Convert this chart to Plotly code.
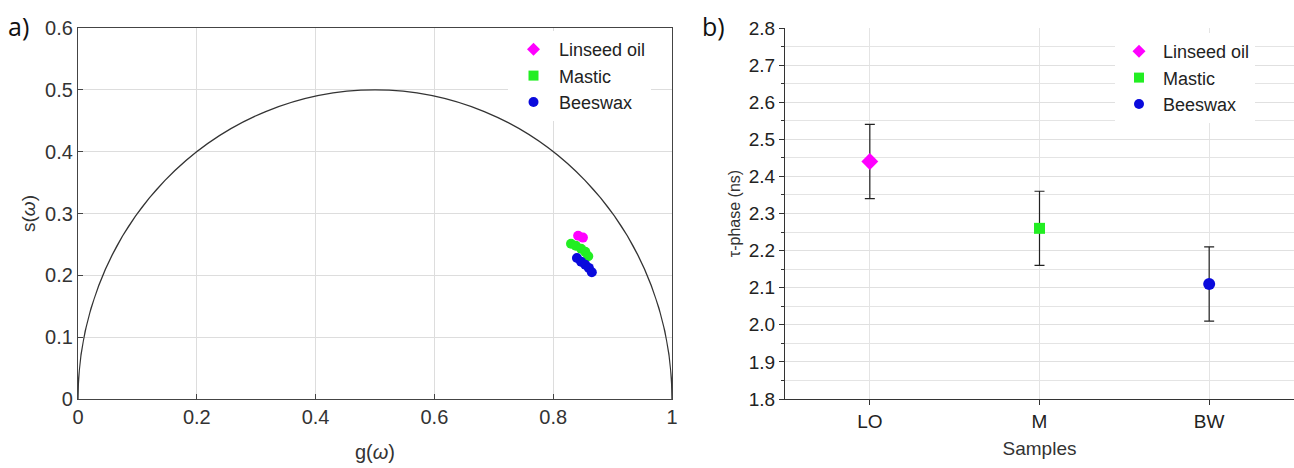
import plotly.graph_objects as go

# ---- data: phasor plot (a) ----
lo_g = [0.842, 0.850]
lo_s = [0.264, 0.261]
m_g = [0.830, 0.838, 0.847, 0.854, 0.859]
m_s = [0.251, 0.248, 0.243, 0.238, 0.231]
bw_g = [0.840, 0.847, 0.854, 0.860, 0.865]
bw_s = [0.228, 0.222, 0.217, 0.212, 0.205]

# ---- data: tau-phase plot (b) ----
samples = ["LO", "M", "BW"]
tau = [2.44, 2.26, 2.11]
tau_err = [0.10, 0.10, 0.10]

names = ["Linseed oil", "Mastic", "Beeswax"]
colors = ["#ff00ff", "#22ee22", "#0a0adc"]
symbols = ["diamond", "square", "circle"]

FONT = "Liberation Sans, Arial, sans-serif"

fig = go.Figure()

left_sets = [(lo_g, lo_s), (m_g, m_s), (bw_g, bw_s)]
for k, ((gx, sy), nm, c, sym) in enumerate(zip(left_sets, names, colors, symbols)):
    fig.add_trace(go.Scatter(x=gx, y=sy, mode="markers", name=nm,
                             marker=dict(color=c, size=10, symbol="circle", line=dict(width=0)),
                             xaxis="x", yaxis="y", showlegend=False))
    fig.add_trace(go.Scatter(x=[None], y=[None], mode="markers", name=nm, legendgroup="a%d" % k,
                             marker=dict(color=c, size=10, symbol=sym, line=dict(width=0)),
                             xaxis="x", yaxis="y", legend="legend"))

for i in range(3):
    fig.add_trace(go.Scatter(x=[samples[i]], y=[tau[i]], mode="markers", name=names[i],
                             marker=dict(color=colors[i], size=[13, 11, 12][i], symbol=symbols[i], line=dict(width=0)),
                             error_y=dict(type="data", array=[tau_err[i]], color="#222222", thickness=1.2, width=5),
                             xaxis="x2", yaxis="y2", showlegend=False))
    fig.add_trace(go.Scatter(x=[None], y=[None], mode="markers", name=names[i], legendgroup="b%d" % i,
                             marker=dict(color=colors[i], size=10, symbol=symbols[i], line=dict(width=0)),
                             xaxis="x2", yaxis="y2", legend="legend2"))

ydom = [1 - 399 / 468, 1 - 28 / 468]
TXT = "#333333"

fig.update_layout(
    width=1294, height=468,
    margin=dict(l=0, r=0, t=0, b=0, autoexpand=False),
    paper_bgcolor="white", plot_bgcolor="white",
    font=dict(family=FONT, size=16, color=TXT),
    xaxis=dict(domain=[78 / 1294, 672 / 1294], range=[0, 1], dtick=0.2, automargin=False,
               showgrid=True, gridcolor="#dddddd", gridwidth=1, zeroline=False,
               showline=True, linecolor="#444444", linewidth=1.2, mirror=True,
               ticks="inside", ticklen=5, tickcolor="#444444",
               tickfont=dict(size=20, color=TXT),
               title=dict(text="g(<i>ω</i>)", font=dict(size=20, color=TXT), standoff=17)),
    yaxis=dict(domain=ydom, range=[0, 0.6], dtick=0.1, automargin=False,
               showgrid=True, gridcolor="#dddddd", gridwidth=1, zeroline=False,
               showline=True, linecolor="#444444", linewidth=1.2, mirror=True,
               ticks="inside", ticklen=5, tickcolor="#444444",
               tickfont=dict(size=20, color=TXT),
               title=dict(text="s(<i>ω</i>)", font=dict(size=19, color=TXT), standoff=4)),
    xaxis2=dict(domain=[785 / 1294, 1.0], range=[-0.5, 2.5], type="category", automargin=False,
                showgrid=True, gridcolor="#e4e4e4", zeroline=False,
                showline=True, linecolor="#333333", linewidth=1.2,
                ticks="outside", ticklen=5, tickcolor="#333333",
                tickfont=dict(size=19, color="#222222"),
                title=dict(text="Samples", font=dict(size=19, color=TXT), standoff=10),
                anchor="y2"),
    yaxis2=dict(domain=ydom, range=[1.8, 2.8], dtick=0.1, tickformat=".1f", automargin=False,
                showgrid=True, gridcolor="#e0e0e0", zeroline=False,
                showline=True, linecolor="#333333", linewidth=1.2,
                ticks="outside", ticklen=5, tickcolor="#333333",
                minor=dict(dtick=0.05, ticks="outside", ticklen=3, tickcolor="#333333",
                           showgrid=True, gridcolor="#e4e4e4"),
                tickfont=dict(size=19, color="#222222"),
                title=dict(text="τ-phase (ns)", font=dict(size=16, color=TXT), standoff=4),
                anchor="x2"),
    legend=dict(x=508 / 1294, y=1 - 31 / 468, xanchor="left", yanchor="top",
                bgcolor="white", borderwidth=0, font=dict(size=18, color="#222222"),
                itemwidth=41, tracegroupgap=0),
    legend2=dict(x=1115 / 1294, y=1 - 33 / 468, xanchor="left", yanchor="top",
                 bgcolor="white", borderwidth=0, font=dict(size=18, color="#222222"),
                 itemwidth=38, tracegroupgap=0),
    shapes=[dict(type="circle", xref="x", yref="y", x0=0, x1=1, y0=-0.5, y1=0.5,
                 line=dict(color="#333333", width=1.3), layer="above")],
    annotations=[
        dict(text="a)", x=0.0, y=1 - 26 / 468, xref="paper", yref="paper", xanchor="left", yanchor="middle",
             xshift=6, showarrow=False, font=dict(family="Open Sans, sans-serif", size=25, color="#111111")),
        dict(text="b)", x=700 / 1294, y=1 - 26 / 468, xref="paper", yref="paper", xanchor="left", yanchor="middle",
             showarrow=False, font=dict(family="Open Sans, sans-serif", size=25, color="#111111")),
    ],
)

fig.write_html("out.html", config={"displayModeBar": False},
               post_script="document.body.style.margin='0px';")
